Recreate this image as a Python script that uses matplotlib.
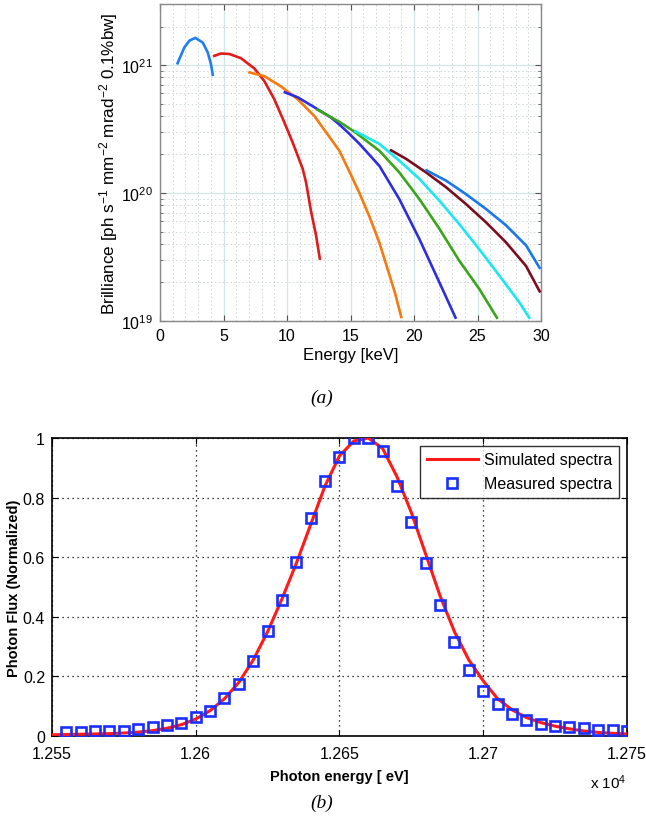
import numpy as np
import matplotlib
matplotlib.use("Agg")
import matplotlib.pyplot as plt
from matplotlib.ticker import MultipleLocator, LogLocator, FuncFormatter, NullFormatter

plt.rcParams['font.family'] = ['Liberation Sans', 'DejaVu Sans']
plt.rcParams['mathtext.fontset'] = 'custom'
plt.rcParams['mathtext.rm'] = 'Liberation Sans'
plt.rcParams['mathtext.it'] = 'Liberation Sans:italic'

# ---------------- (a) brilliance harmonics ----------------
h1_e = [1.34, 1.91, 2.31, 2.78, 3.36, 3.75, 4.01, 4.17]
h1_b = [1.01e21, 1.37e21, 1.55e21, 1.63e21, 1.50e21, 1.26e21, 1.02e21, 8.2e20]

h2_e = [4.17, 4.80, 5.46, 6.38, 7.43, 8.21, 9.0, 9.79, 10.44, 11.23, 11.5, 11.89, 12.28, 12.6]
h2_b = [1.17e21, 1.23e21, 1.22e21, 1.13e21, 9.4e20, 7.5e20, 5.4e20, 3.56e20, 2.49e20,
        1.55e20, 1.21e20, 7.2e19, 4.7e19, 3.0e19]

h3_e = [6.95, 8.21, 9.53, 10.84, 12.15, 13.46, 14.12, 14.9, 15.7, 16.5, 17.27, 18.0, 18.5, 19.02]
h3_b = [8.8e20, 8.2e20, 6.8e20, 5.4e20, 4.0e20, 2.64e20, 2.14e20, 1.48e20, 1.0e20,
        6.5e19, 4.1e19, 2.4e19, 1.66e19, 1.05e19]

h4_e = [9.73, 10.84, 12.15, 13.46, 14.12, 14.77, 15.69, 17.27, 18.84, 20.42, 22.0, 23.31]
h4_b = [6.17e20, 5.6e20, 4.68e20, 3.89e20, 3.43e20, 2.99e20, 2.43e20, 1.63e20, 8.97e19,
        4.37e19, 2.0e19, 1.04e19]

h5_e = [12.3, 12.54, 14.12, 15.3, 17.27, 18.84, 20.42, 22.0, 23.57, 25.14, 26.58]
h5_b = [4.52e20, 4.4e20, 3.6e20, 3.02e20, 2.14e20, 1.45e20, 8.97e19, 5.25e19, 2.95e19,
        1.78e19, 1.04e19]

h6_e = [15.3, 17.27, 18.84, 20.42, 22.0, 23.57, 25.14, 26.72, 28.29, 29.13]
h6_b = [3.07e20, 2.42e20, 1.79e20, 1.29e20, 8.7e19, 5.7e19, 3.63e19, 2.26e19, 1.40e19, 1.04e19]

h7_e = [18.11, 19.37, 20.94, 22.52, 24.09, 25.67, 27.24, 28.82, 29.94]
h7_b = [2.18e20, 1.85e20, 1.45e20, 1.11e20, 8.2e19, 5.9e19, 4.12e19, 2.69e19, 1.67e19]

h8_e = [20.89, 22.52, 24.09, 25.67, 27.24, 28.82, 29.94]
h8_b = [1.52e20, 1.25e20, 9.8e19, 7.5e19, 5.6e19, 3.9e19, 2.55e19]

harm_e = [h1_e, h2_e, h3_e, h4_e, h5_e, h6_e, h7_e, h8_e]
harm_b = [h1_b, h2_b, h3_b, h4_b, h5_b, h6_b, h7_b, h8_b]
harm_colors = ['#1f7ff0', '#e01b1b', '#f57a10', '#2e2ee0', '#3aa51a', '#1ae8ee', '#7a0d1e', '#1a78e8']

# ---------------- (b) spectrum ----------------
sim_energy = [12550, 12555, 12560, 12565, 12570, 12575, 12580, 12585, 12590, 12595,
              12600, 12605, 12610, 12615, 12620, 12625, 12630, 12635, 12640, 12645,
              12650, 12655, 12660, 12665, 12670, 12675, 12680, 12685, 12690, 12695,
              12700, 12705, 12710, 12715, 12720, 12725, 12730, 12735, 12740, 12745, 12750]
sim_flux = [0.004, 0.005, 0.006, 0.007, 0.008, 0.010, 0.013, 0.018, 0.026, 0.038,
            0.057, 0.085, 0.125, 0.18, 0.255, 0.35, 0.46, 0.58, 0.71, 0.84,
            0.94, 0.99, 1.0, 0.965, 0.87, 0.75, 0.61, 0.47, 0.35, 0.255,
            0.185, 0.125, 0.088, 0.062, 0.045, 0.033, 0.024, 0.017, 0.012, 0.009, 0.007]

meas_energy = [12555, 12560, 12565, 12570, 12575, 12580, 12585, 12590, 12595, 12600,
               12605, 12610, 12615, 12620, 12625, 12630, 12635, 12640, 12645, 12650,
               12655, 12660, 12665, 12670, 12675, 12680, 12685, 12690, 12695, 12700,
               12705, 12710, 12715, 12720, 12725, 12730, 12735, 12740, 12745, 12750]
meas_flux = [0.015, 0.015, 0.018, 0.018, 0.018, 0.023, 0.029, 0.037, 0.043, 0.063,
             0.084, 0.127, 0.175, 0.253, 0.353, 0.456, 0.585, 0.731, 0.857, 0.935,
             1.0, 1.0, 0.955, 0.84, 0.719, 0.58, 0.44, 0.314, 0.221, 0.152,
             0.107, 0.074, 0.055, 0.040, 0.035, 0.029, 0.026, 0.020, 0.020, 0.016]

x_ticks_b = [12550, 12600, 12650, 12700, 12750]
y_ticks_b = [0, 0.2, 0.4, 0.6, 0.8, 1]

fig = plt.figure(figsize=(6.46, 8.28), dpi=100)

# ---- top panel ----
ax = fig.add_axes([0.2477, 0.6111, 0.5898, 0.3829])
for e, b, c in zip(harm_e, harm_b, harm_colors):
    ax.plot(e, b, color=c, lw=1.9, solid_capstyle='butt', solid_joinstyle='round', zorder=3)
ax.set_yscale('log')
ax.set_xlim(0, 30)
ax.set_ylim(1e19, 3e21)
ax.xaxis.set_major_locator(MultipleLocator(5))
ax.xaxis.set_minor_locator(MultipleLocator(1))
ax.yaxis.set_major_locator(LogLocator(base=10, numticks=10))
ax.yaxis.set_minor_locator(LogLocator(base=10, subs=np.arange(2, 10), numticks=20))
ax.yaxis.set_minor_formatter(NullFormatter())
ax.grid(True, which='major', color='#d3e6e6', lw=0.9, ls='-', zorder=0)
ax.grid(True, which='minor', color='#cdd6d6', lw=0.7, ls=(0, (1.5, 2.5)), zorder=0)
ax.tick_params(which='both', direction='in', top=True, right=True, colors='#555555',
               labelcolor='black', labelsize=11.5)
ax.tick_params(which='major', length=4, pad=5)
ax.tick_params(axis='y', which='minor', length=2.5)
ax.tick_params(axis='x', which='minor', length=0)
for s in ax.spines.values():
    s.set_color('#888888')
    s.set_linewidth(1.0)
ax.set_xlabel('Energy [keV]', fontsize=12, labelpad=3)
ax.set_ylabel('Brilliance [ph s$^{-1}$ mm$^{-2}$ mrad$^{-2}$ 0.1%bw]', fontsize=12.3, labelpad=1)

fig.text(0.4985, 1 - 398 / 828, '(a)', ha='center', va='center', fontsize=14,
         family='Liberation Serif', style='italic')

# ---- bottom panel ----
bx = fig.add_axes([0.0805, 0.1099, 0.8900, 0.3599])
bx.plot(sim_energy, sim_flux, color='#ff1a1a', lw=2.2, label='Simulated spectra', zorder=3)
bx.plot(meas_energy, meas_flux, ls='none', marker='s', ms=7.8, mfc='none', mec='#1a2eff',
        mew=1.9, label='Measured spectra', zorder=4)
bx.set_xlim(12550, 12750)
bx.set_ylim(0, 1)
bx.set_xticks(x_ticks_b)
bx.set_yticks(y_ticks_b)
bx.xaxis.set_major_formatter(FuncFormatter(lambda v, p: '%g' % (v / 1e4)))
bx.yaxis.set_major_formatter(FuncFormatter(lambda v, p: '%g' % v))
bx.grid(True, color='black', lw=0.9, ls=(0, (1, 3)))
bx.tick_params(direction='in', top=True, right=True, length=4, labelsize=11.5)
bx.tick_params(axis='x', pad=7)
bx.tick_params(axis='y', pad=5)
for s in bx.spines.values():
    s.set_color('black')
    s.set_linewidth(1.2)
bx.set_xlabel('Photon energy [ eV]', fontsize=10.5, fontweight='bold', labelpad=6)
bx.set_ylabel('Photon Flux (Normalized)', fontsize=10.5, fontweight='bold', labelpad=1)
bx.text(1.0, -0.155, 'x 10$^4$', transform=bx.transAxes, ha='right', va='center', fontsize=11)
leg = bx.legend(loc='upper right', fontsize=11.5, frameon=True, fancybox=False,
                borderaxespad=0.5, handlelength=3.2, handletextpad=0.4,
                borderpad=0.4, labelspacing=0.55)
leg.get_frame().set_edgecolor('black')
leg.get_frame().set_linewidth(1.0)

fig.text(0.4985, 1 - 803 / 828, '(b)', ha='center', va='center', fontsize=14,
         family='Liberation Serif', style='italic')

fig.savefig('out.png', dpi=100)
